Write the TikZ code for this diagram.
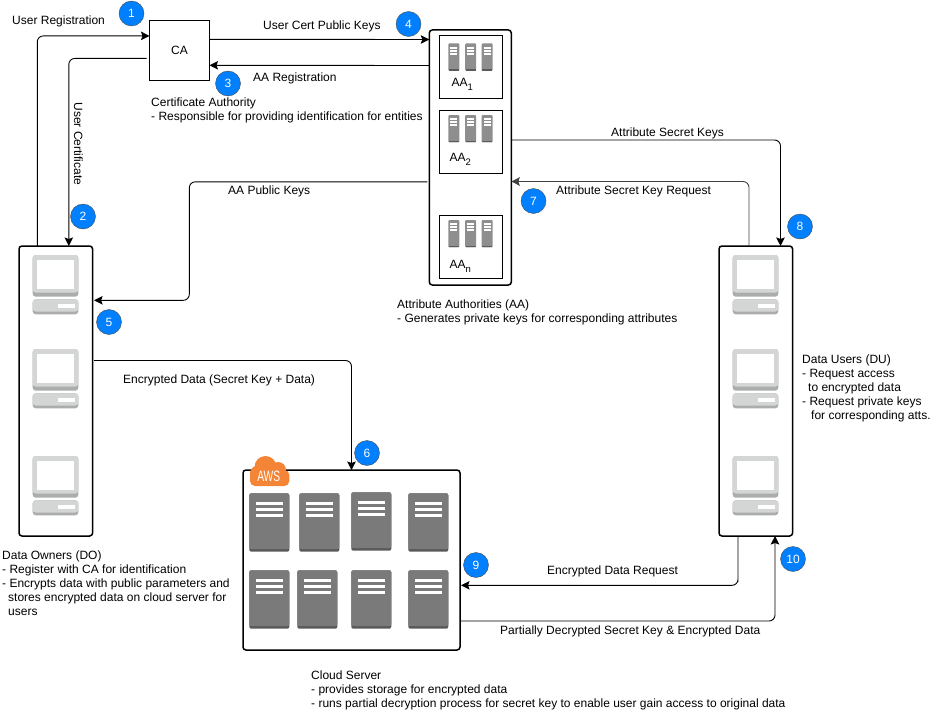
\documentclass[tikz,border=0pt]{standalone}
\usepackage{fontspec}
\setmainfont{Liberation Sans}
\usepackage{xcolor}
\usepackage{tikz}
\usetikzlibrary{arrows.meta}
\definecolor{myblue}{HTML}{007FFF}
\definecolor{myorange}{HTML}{F58536}
\definecolor{mygray}{HTML}{7A7A7A}
\definecolor{mylight}{HTML}{D4D5D5}
\definecolor{mydark}{HTML}{ABACAC}
\tikzstyle{arrow} = [-{Stealth[length=8.5pt,width=8.5pt,inset=1.5pt]},rounded corners=6pt,line width=0.9pt]
\tikzstyle{holder} = [draw,line width=1.5pt,rounded corners=3pt,inner sep=0pt,outer sep=0pt]
\tikzstyle{square} = [draw,line width=0.8pt,inner sep=0pt,outer sep=0pt]
\tikzstyle{badge} = [circle,fill=myblue,draw=black!70,line width=0.4pt,text=white,minimum size=25pt,inner sep=0pt,font=\fontsize{12}{14}\selectfont]
\tikzstyle{txt} = [inner sep=0pt,align=left,anchor=north west,yshift=-1.2pt,font=\fontsize{12}{14}\selectfont]
\tikzset{
  pcicon/.pic={
    \fill[mydark,rounded corners=3pt] (0,0) rectangle (45.6,41.7);
    \fill[mylight,rounded corners=3pt] (0,0) rectangle (45.6,37.5);
    \fill[white] (4,4.5) rectangle (41.6,33.5);
    \fill[mydark,rounded corners=3pt] (0,44.3) rectangle (45.6,59.3);
    \fill[mylight,rounded corners=3pt] (0,44.3) rectangle (45.6,56.5);
    \fill[white] (25,49) rectangle (42,52.5);
  },
  rackicon/.pic={
    \fill[mygray!85,rounded corners=1pt] (0,0) rectangle (11,27.4);
    \fill[mygray!60!black!90] (0.5,25.8) rectangle (10.5,27.4);
    \foreach \yy in {3.3,6.3,9.3} {
      \fill[white] (2,\yy) rectangle (9,\yy+2.1);
    }
  },
  servericon/.pic={
    \fill[black!65,rounded corners=2pt] (0,0) rectangle (40,58.4);
    \fill[mygray,rounded corners=2pt] (0,0) rectangle (40,55.8);
    \foreach \yy in {8.3,14.3,20.2} {
      \fill[white] (6.3,\yy) rectangle (34,\yy+3.4);
    }
  }
}
\begin{document}
\begin{tikzpicture}[x=1pt,y=-1pt]
    \useasboundingbox (0,0) rectangle (941,709);
    % Holders
    \node[square,minimum width=60pt,minimum height=60pt,font=\fontsize{12}{14}\selectfont] (ca) at (179.5,50.4) {CA};
    \node[holder,minimum width=73.6pt,minimum height=290pt] (do) at (55.8,391) {};
    \node[holder,minimum width=73.6pt,minimum height=290pt] (du) at (755.8,391) {};
    \node[holder,minimum width=82pt,minimum height=255pt] (aa) at (470.3,157.5) {};
    \node[holder,minimum width=217pt,minimum height=180pt] (cloud) at (351.5,560) {};
    \node[square,minimum width=63pt,minimum height=63pt] (aa1) at (470.8,66.8) {};
    \node[square,minimum width=63pt,minimum height=63pt] (aa2) at (470.8,141.8) {};
    \node[square,minimum width=63pt,minimum height=63pt] (aan) at (470.8,246.8) {};
    % Icons
    \foreach \yy in {255,349,456} {
        \pic at (32.7,\yy) {pcicon};
        \pic at (732.7,\yy) {pcicon};
    }
    \foreach \yy in {43.3,115,220} {
        \pic at (448.3,\yy) {rackicon};
        \pic at (465.2,\yy) {rackicon};
        \pic at (481.7,\yy) {rackicon};
    }
    \pic at (249.3,493.3) {servericon};
    \pic at (299.3,493.3) {servericon};
    \pic at (351.3,492.3) {servericon};
    \pic at (408.3,493.3) {servericon};
    \pic at (249.3,570.3) {servericon};
    \pic at (297.3,570.3) {servericon};
    \pic at (351.3,570.3) {servericon};
    \pic at (408.3,570.3) {servericon};
    % AWS cloud
    \fill[myorange,rounded corners=5pt] (250,470) rectangle (289.3,486);
    \fill[myorange] (265.5,467) circle (11pt);
    \fill[myorange] (278,470) circle (8pt);
    \fill[myorange] (257,473) circle (7pt);
    \node[text=white,font=\fontsize{15}{15}\selectfont,xscale=.68,inner sep=0pt] (aws) at (268.7,476) {AWS};
    % Subscript labels
    \node[txt] (aa1txt) at (451.5,77) {AA\raisebox{-3.5pt}{\fontsize{9.5}{8}\selectfont 1}};
    \node[txt] (aa2txt) at (449.5,152) {AA\raisebox{-3.5pt}{\fontsize{9.5}{8}\selectfont 2}};
    \node[txt] (aantxt) at (449.5,259) {AA\raisebox{-3.5pt}{\fontsize{9.5}{8}\selectfont n}};
    % Connectors
    \coordinate (bendpub) at (189.3,240);
    \coordinate (bendreq) at (738,585.3);
    \draw[arrow] ([xshift=-18.5pt]do.north) |- ([yshift=14.5pt]ca.west);
    \draw[arrow] ([xshift=-3pt,yshift=-8pt]ca.west) -| ([xshift=13pt]do.north);
    \draw[arrow] ([yshift=11.1pt]ca.east) -- ([yshift=118pt]aa.west);
    \draw[arrow] ([yshift=92pt]aa.west) -- ([yshift=-14.9pt]ca.east);
    \draw[arrow] ([xshift=-2pt,yshift=-24.3pt]aa.west) -| (bendpub) |- ([xshift=1.5pt,yshift=90.7pt]do.east);
    \draw[arrow] ([yshift=17.5pt]aa.east) -| ([xshift=24.7pt]du.north);
    \draw[arrow,draw=black!75] ([xshift=-6.8pt]du.north) |- ([yshift=-24pt]aa.east);
    \draw[arrow] ([xshift=1.5pt,yshift=30.5pt]do.east) -| (cloud.north);
    \draw[arrow] ([xshift=-17.8pt]du.south) |- (bendreq) -- ([xshift=1pt,yshift=-25.3pt]cloud.east);
    \draw[arrow] ([yshift=-61pt]cloud.east) -| ([xshift=19.2pt]du.south);
    % Badges
    \node[badge] (n1) at (131.5,13.5) {1};
    \node[badge] (n2) at (83,216.5) {2};
    \node[badge] (n3) at (228,83.5) {3};
    \node[badge] (n4) at (408.5,24) {4};
    \node[badge] (n5) at (109,322) {5};
    \node[badge] (n6) at (367,453) {6};
    \node[badge] (n7) at (533.5,201) {7};
    \node[badge] (n8) at (800,226.5) {8};
    \node[badge] (n9) at (476,565) {9};
    \node[badge] (n10) at (793,559) {10};
    % Labels
    \node[txt] (lreg) at (12,14) {User Registration};
    \node[txt] (lcert) at (263,19) {User Cert Public Keys};
    \node[txt] (laareg) at (253,71) {AA Registration};
    \node[txt,rotate=-90,anchor=north west] (lusercert) at (83,101) {User Certificate};
    \node[txt] (lpub) at (228,184) {AA Public Keys};
    \node[txt] (lsec) at (611,126) {Attribute Secret Keys};
    \node[txt] (lsecreq) at (556,184) {Attribute Secret Key Request};
    \node[txt] (lenc) at (123,373) {Encrypted Data (Secret Key + Data)};
    \node[txt] (lencreq) at (547,564) {Encrypted Data Request};
    \node[txt] (lpart) at (500,624) {Partially Decrypted Secret Key \& Encrypted Data};
    % Descriptions
    \node[txt] (dca) at (151,96) {Certificate Authority\\- Responsible for providing identification for entities};
    \node[txt] (daa) at (397,298) {Attribute Authorities (AA)\\- Generates private keys for corresponding attributes};
    \node[txt] (ddu) at (802,353) {Data Users (DU)\\- Request access\\\hspace*{6pt}to encrypted data\\- Request private keys\\\hspace*{9pt}for corresponding atts.};
    \node[txt] (ddo) at (2,549) {Data Owners (DO)\\- Register with CA for identification\\- Encrypts data with public parameters and\\\hspace*{6pt}stores encrypted data on cloud server for\\\hspace*{6pt}users};
    \node[txt] (dcs) at (311,669) {Cloud Server\\- provides storage for encrypted data\\- runs partial decryption process for secret key to enable user gain access to original data};
\end{tikzpicture}
\end{document}
